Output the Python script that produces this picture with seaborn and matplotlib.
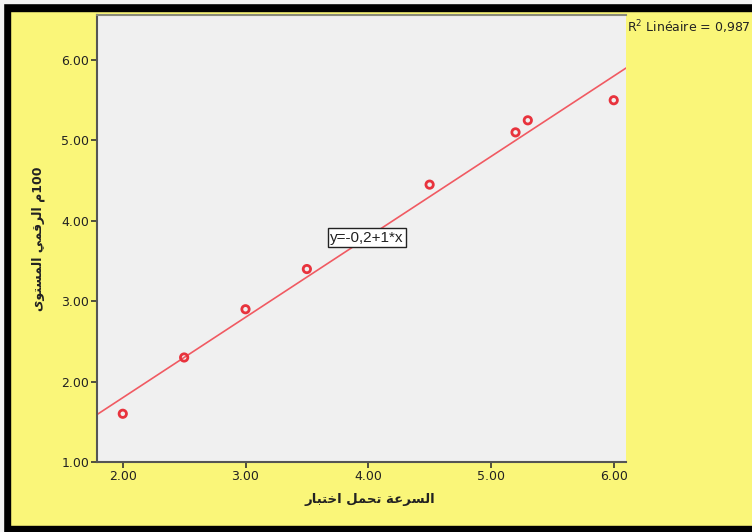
import numpy as np
import pandas as pd
import matplotlib
matplotlib.use("Agg")
import matplotlib.pyplot as plt
from matplotlib.patches import Rectangle
import seaborn as sns

# Data
speed_endurance = [2.0, 2.5, 3.0, 3.5, 4.5, 5.2, 5.3, 6.0]
level_100m = [1.6, 2.3, 2.9, 3.4, 4.45, 5.1, 5.25, 5.5]
fit_intercept = -0.2
fit_slope = 1.0
r_squared = "0,987"
x_ticks = [2.0, 3.0, 4.0, 5.0, 6.0]
y_ticks = [1.0, 2.0, 3.0, 4.0, 5.0, 6.0]

x_title = "السرعة تحمل اختبار"
y_title = "100م الرقمي المستوى"

# Minimal Arabic shaping: contextual presentation forms (iso, fin, ini, med)
FORMS = {
    "ا": ("\uFE8D", "\uFE8E", None, None),
    "ب": ("\uFE8F", "\uFE90", "\uFE91", "\uFE92"),
    "ة": ("\uFE93", "\uFE94", None, None),
    "ت": ("\uFE95", "\uFE96", "\uFE97", "\uFE98"),
    "ح": ("\uFEA1", "\uFEA2", "\uFEA3", "\uFEA4"),
    "خ": ("\uFEA5", "\uFEA6", "\uFEA7", "\uFEA8"),
    "ر": ("\uFEAD", "\uFEAE", None, None),
    "س": ("\uFEB1", "\uFEB2", "\uFEB3", "\uFEB4"),
    "ع": ("\uFEC9", "\uFECA", "\uFECB", "\uFECC"),
    "ق": ("\uFED5", "\uFED6", "\uFED7", "\uFED8"),
    "ل": ("\uFEDD", "\uFEDE", "\uFEDF", "\uFEE0"),
    "م": ("\uFEE1", "\uFEE2", "\uFEE3", "\uFEE4"),
    "و": ("\uFEED", "\uFEEE", None, None),
    "ى": ("\uFEEF", "\uFEF0", None, None),
    "ي": ("\uFEF1", "\uFEF2", "\uFEF3", "\uFEF4"),
}


def shape_word(word):
    out = []
    for i, ch in enumerate(word):
        if ch not in FORMS:
            out.append(ch)
            continue
        prev = word[i - 1] if i > 0 else ""
        nxt = word[i + 1] if i + 1 < len(word) else ""
        joins_prev = prev in FORMS and FORMS[prev][2] is not None
        joins_next = FORMS[ch][2] is not None and nxt in FORMS
        iso, fin, ini, med = FORMS[ch]
        if joins_prev and joins_next:
            out.append(med)
        elif joins_prev:
            out.append(fin)
        elif joins_next:
            out.append(ini)
        else:
            out.append(iso)
    return "".join(out)


def visual_rtl(text):
    """Lay out a right-to-left line for a left-to-right renderer."""
    runs = []
    for word in text.split(" "):
        # keep digit runs in reading order, reverse the Arabic letters
        digits = "".join(c for c in word if c.isdigit())
        letters = "".join(c for c in word if not c.isdigit())
        shaped = shape_word(letters)[::-1]
        runs.append(shaped + digits if digits else shaped)
    return " ".join(reversed(runs))


sns.set_style("white")
plt.rcParams["font.family"] = ["DejaVu Sans"]

yellow = "#faf679"
red = "#e8333d"
ink = "#222222"

df = pd.DataFrame({"x": speed_endurance, "y": level_100m})

fig = plt.figure(figsize=(7.52, 5.32), dpi=100, facecolor=yellow)
ax = fig.add_axes([97 / 752, 70 / 532, (626 - 97) / 752, (462 - 15) / 532])
ax.set_facecolor("#f0f0f0")

ax.set_xlim(1.79, 6.1)
ax.set_ylim(1.0, 6.56)

# Fitted line across the whole x range
xs = np.array(ax.get_xlim())
ys = fit_intercept + fit_slope * xs
ax.plot(xs, ys, color="#f05a62", lw=1.2, zorder=2)

sns.scatterplot(data=df, x="x", y="y", ax=ax, marker="o", s=28,
                facecolors="none", edgecolor=red, linewidth=2.0, zorder=3)

ax.set_xticks(x_ticks)
ax.set_xticklabels([f"{v:.2f}" for v in x_ticks])
ax.set_yticks(y_ticks)
ax.set_yticklabels([f"{v:.2f}" for v in y_ticks])
ax.tick_params(axis="both", direction="out", length=4, width=1.2,
               color="#333333", labelsize=9, labelcolor=ink, pad=1.5)
ax.tick_params(left=True, bottom=True)

ax.spines["right"].set_visible(False)
ax.spines["top"].set_color("#8a8a7a")
ax.spines["top"].set_linewidth(1.5)
for side in ["left", "bottom"]:
    ax.spines[side].set_color("#555555")
    ax.spines[side].set_linewidth(1.5)

ax.set_xlabel(visual_rtl(x_title), fontsize=9.5, fontweight="bold", color=ink)
ax.xaxis.set_label_coords(0.515, -0.07, transform=ax.transAxes)
ax.xaxis.label.set_va("top")
ax.set_ylabel(visual_rtl(y_title), fontsize=9, fontweight="bold", color=ink)
ax.yaxis.set_label_coords(-0.112, 0.5, transform=ax.transAxes)
ax.yaxis.label.set_va("center")

ax.text(3.69, 3.79, "y=-0,2+1*x", fontsize=11, color=ink,
        family="Liberation Sans", va="center", ha="left", zorder=4,
        bbox=dict(boxstyle="square,pad=0.16", fc="white", ec="#222222", lw=1))

fig.text(627 / 752, 1 - 27 / 532, "R$^2$ Linéaire = " + r_squared,
         fontsize=9, color=ink, va="center", ha="left")

# Outer frame bands
fig.patches.append(Rectangle((3 / 752, 1 - 11 / 532), 1, 8 / 532,
                             transform=fig.transFigure, color="black", zorder=0))
fig.patches.append(Rectangle((3 / 752, 0), 7 / 752, 1 - 3 / 532,
                             transform=fig.transFigure, color="black", zorder=0))
fig.patches.append(Rectangle((0, 0), 1, 6 / 532,
                             transform=fig.transFigure, color="black", zorder=0))
fig.patches.append(Rectangle((0, 0), 3 / 752, 1,
                             transform=fig.transFigure, color="#f4f4f4", zorder=0))
fig.patches.append(Rectangle((0, 1 - 3 / 532), 1, 3 / 532,
                             transform=fig.transFigure, color="#f4f4f4", zorder=0))

fig.savefig("out.png", dpi=100, facecolor=yellow)
